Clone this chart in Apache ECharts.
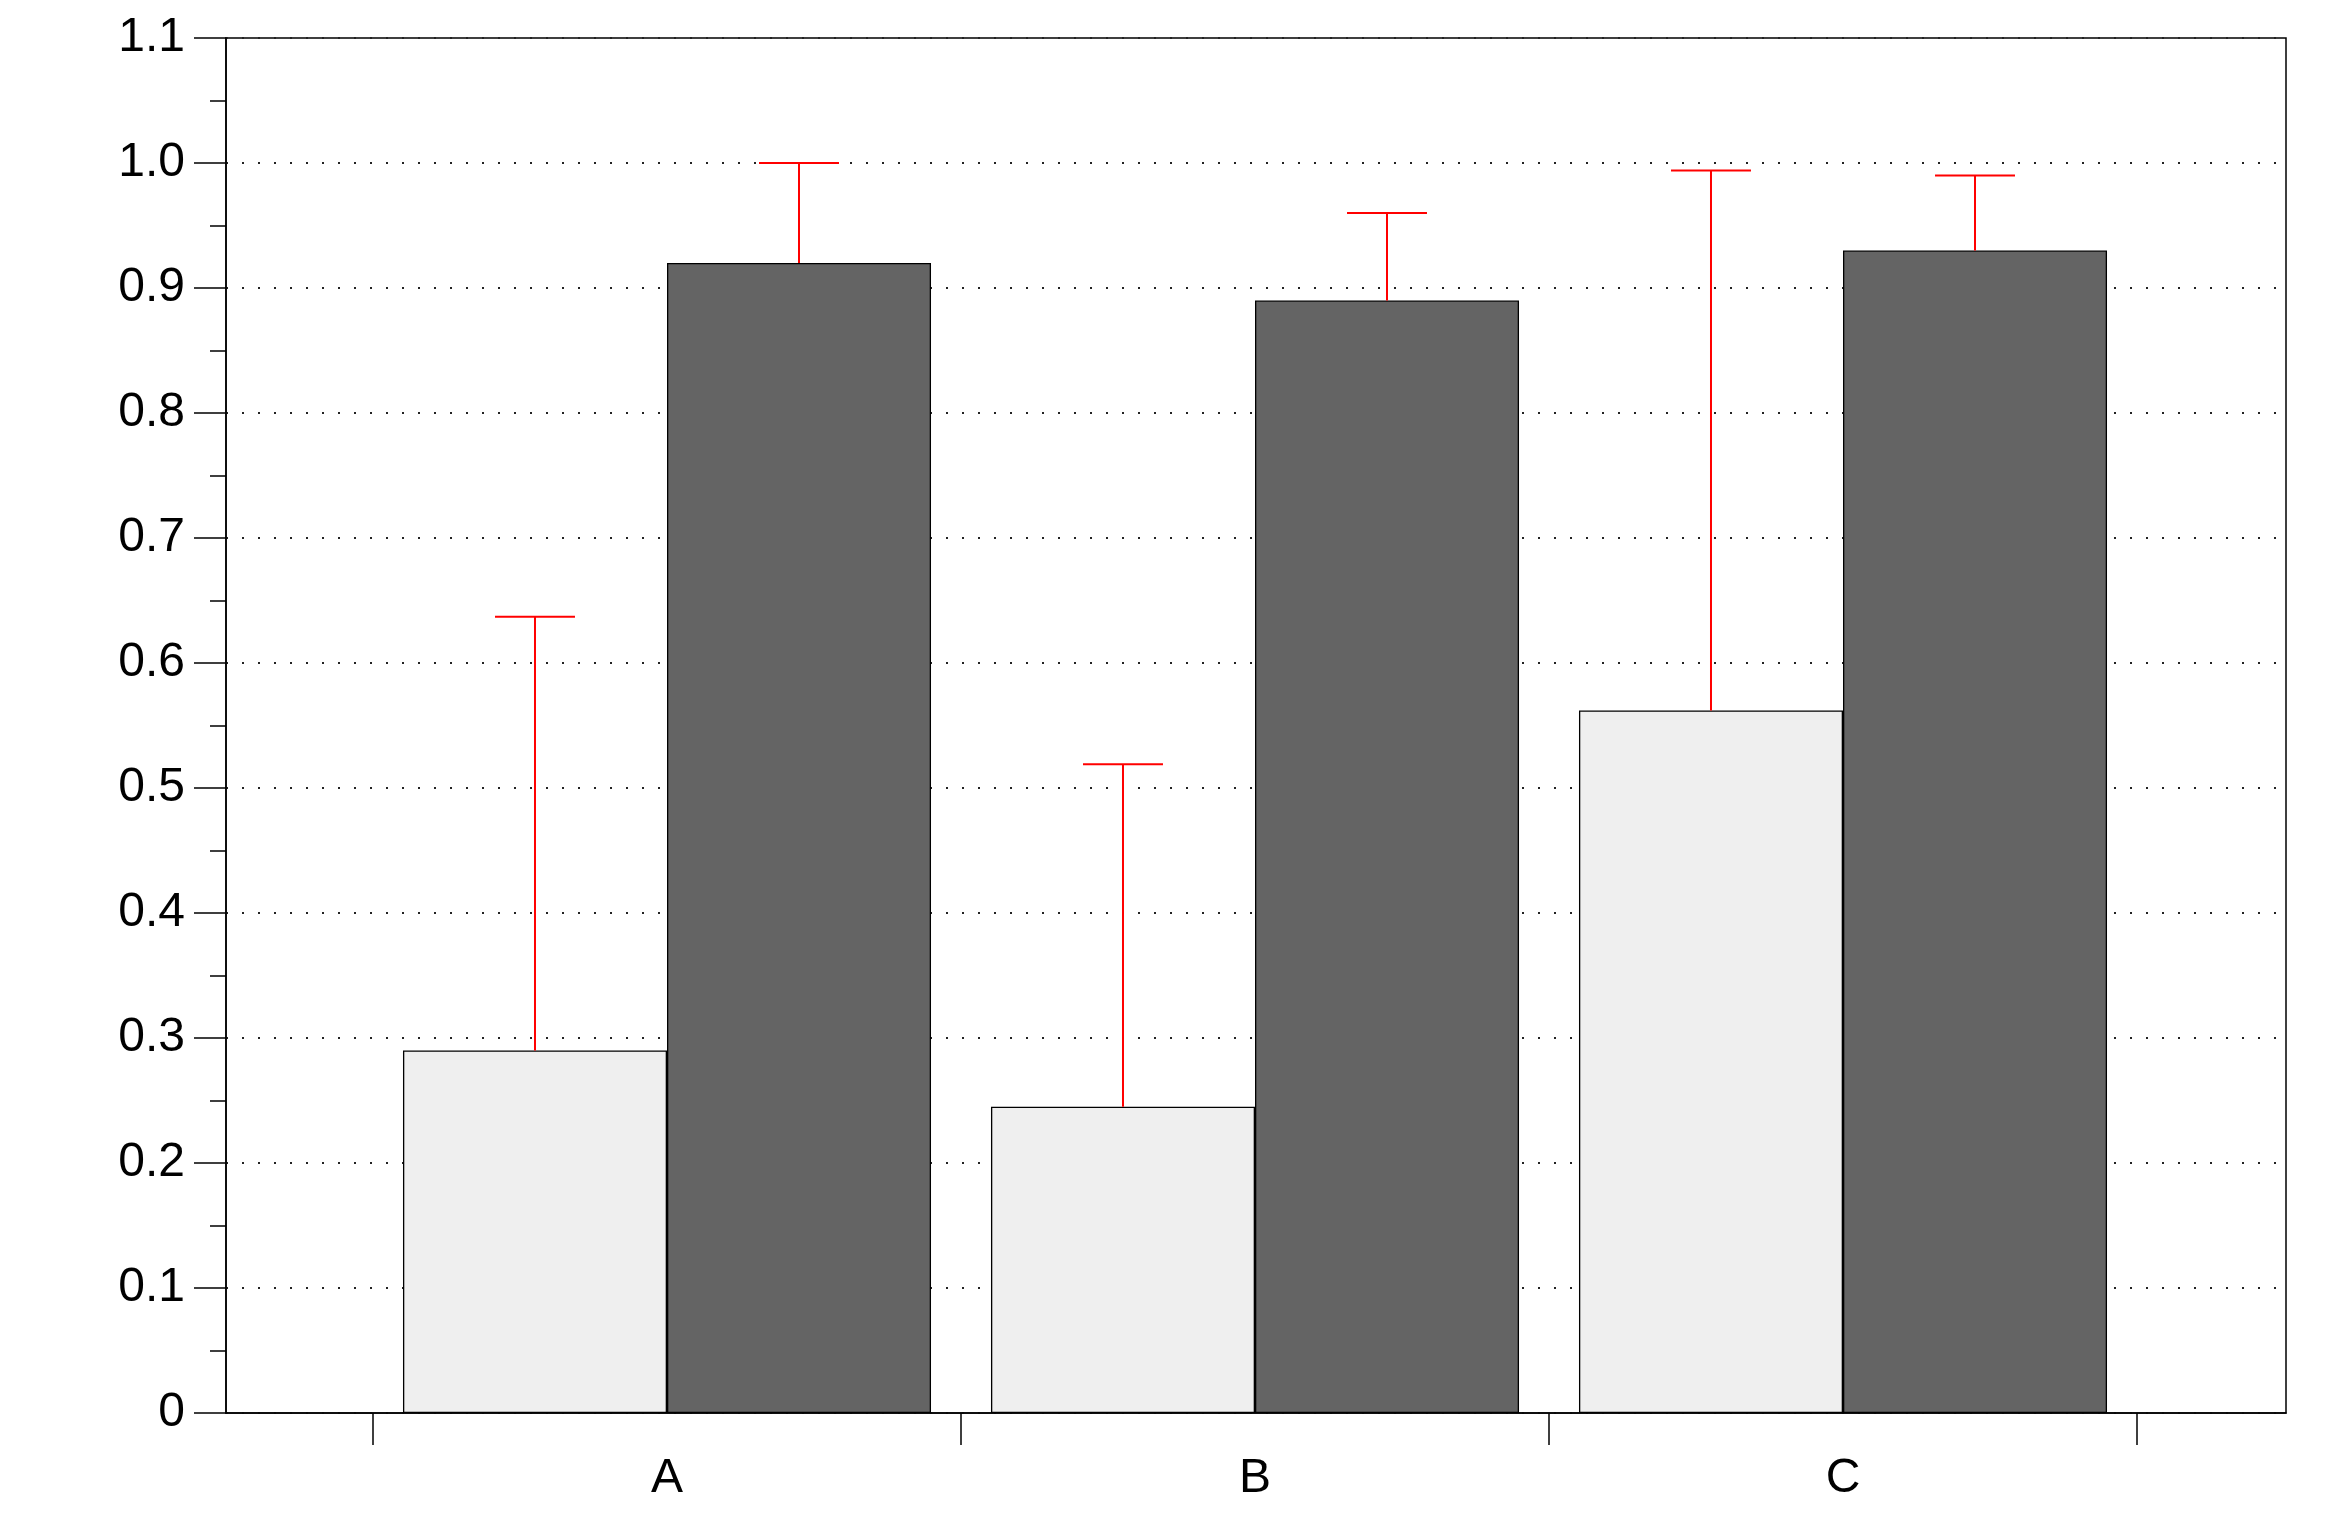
<!DOCTYPE html>
<html>
<head>
<meta charset="utf-8">
<script src="https://cdn.jsdelivr.net/npm/echarts@6/dist/echarts.min.js"></script>
<style>
html,body{margin:0;padding:0;background:#fff;}
#chart{width:2348px;height:1520px;}
</style>
</head>
<body>
<div id="chart"></div>
<script>
// ---- data ----
const categories = ['A', 'B', 'C'];
const lightValues = [0.29, 0.245, 0.562];
const lightErrUpper = [0.637, 0.519, 0.994];
const darkValues = [0.92, 0.89, 0.93];
const darkErrUpper = [1.0, 0.96, 0.99];
const yMin = 0, yMax = 1.1, yStep = 0.1;

// ---- style ----
const FONT = 'Liberation Sans, Arial, sans-serif';
const BAR_FRAC = 0.449;   // bar width as fraction of category band
const CAP_FRAC = 0.068;   // half cap width as fraction of band
const G = {top: 38, bottom: 107};

const chart = echarts.init(document.getElementById('chart'), null, {renderer: 'canvas'});

function errSeries(name, vals, upper, sign) {
  return {
    name: name,
    type: 'custom',
    xAxisIndex: 1, yAxisIndex: 1,
    z: 10,
    data: categories.map((c, i) => [i, vals[i], upper[i]]),
    renderItem: function (params, api) {
      const i = api.value(0);
      const band = api.size([1, 0])[0];
      const cx = api.coord([i, 0])[0] + sign * band * BAR_FRAC / 2;
      const y0 = api.coord([i, api.value(1)])[1];
      const y1 = api.coord([i, api.value(2)])[1];
      const hw = band * CAP_FRAC;
      const st = {stroke: '#ff0000', lineWidth: 2};
      return {
        type: 'group',
        children: [
          {type: 'line', shape: {x1: cx, y1: y0, x2: cx, y2: y1}, style: st},
          {type: 'line', shape: {x1: cx - hw, y1: y1, x2: cx + hw, y2: y1}, style: st}
        ]
      };
    }
  };
}

const option = {
  animation: false,
  backgroundColor: '#fff',
  grid: [
    {left: 226, right: 62, top: G.top, bottom: G.bottom, show: true,
     borderColor: '#000', borderWidth: 1.5, backgroundColor: 'transparent'},
    {left: 373, right: 211, top: G.top, bottom: G.bottom, show: false}
  ],
  xAxis: [
    {gridIndex: 0, type: 'value', min: 0, max: 1,
     axisLine: {show: true, lineStyle: {color: '#000', width: 1.5}},
     axisTick: {show: false}, axisLabel: {show: false}, splitLine: {show: false}},
    {gridIndex: 1, type: 'category', data: categories, boundaryGap: true,
     axisLine: {show: false},
     axisTick: {show: true, length: 32, inside: false, alignWithLabel: false,
                lineStyle: {color: '#000', width: 1.5}},
     axisLabel: {fontFamily: FONT, fontSize: 48, color: '#000', margin: 42},
     splitLine: {show: false}}
  ],
  yAxis: [
    {gridIndex: 0, type: 'value', min: yMin, max: yMax, interval: yStep,
     axisLine: {show: true, lineStyle: {color: '#000', width: 1.5}},
     axisTick: {show: true, length: 32, inside: false, lineStyle: {color: '#000', width: 1.5}},
     minorTick: {show: true, splitNumber: 2, length: 16, lineStyle: {color: '#000', width: 1.5}},
     axisLabel: {fontFamily: FONT, fontSize: 48, color: '#000', margin: 41,
                 formatter: v => (Math.abs(v) < 1e-9 ? '0' : v.toFixed(1))},
     splitLine: {show: true, lineStyle: {color: '#222', width: 2, type: [2, 14]}}},
    {gridIndex: 1, type: 'value', min: yMin, max: yMax, interval: yStep, show: false,
     splitLine: {show: false}}
  ],
  series: [
    {name: 'light', type: 'bar', xAxisIndex: 1, yAxisIndex: 1, data: lightValues,
     barWidth: (BAR_FRAC * 100) + '%', barGap: '0%',
     itemStyle: {color: '#efefef', borderColor: '#000', borderWidth: 1.3}},
    {name: 'dark', type: 'bar', xAxisIndex: 1, yAxisIndex: 1, data: darkValues,
     barWidth: (BAR_FRAC * 100) + '%', barGap: '0%',
     itemStyle: {color: '#646464', borderColor: '#000', borderWidth: 1.3}},
    errSeries('lightErr', lightValues, lightErrUpper, -1),
    errSeries('darkErr', darkValues, darkErrUpper, 1)
  ]
};
chart.setOption(option);
</script>
</body>
</html>
